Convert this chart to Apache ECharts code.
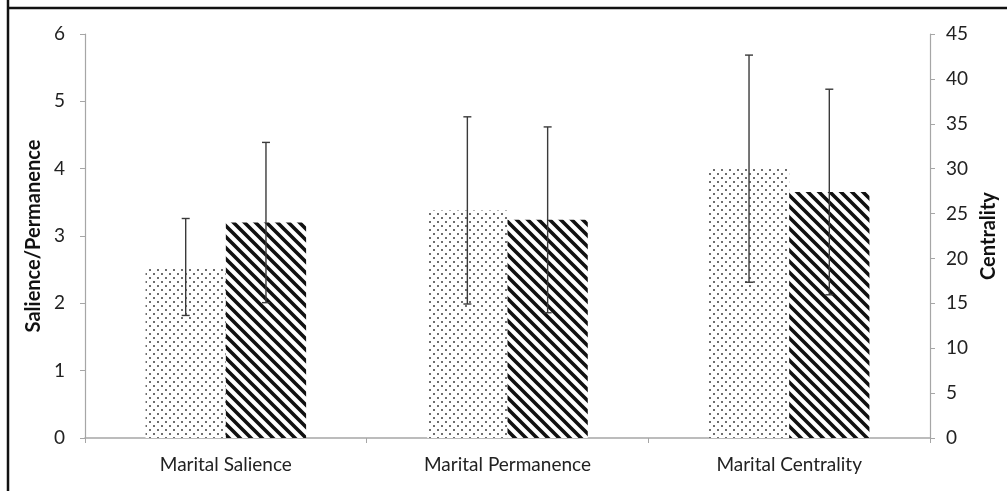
<!DOCTYPE html>
<html>
<head>
<meta charset="utf-8">
<script src="https://cdn.jsdelivr.net/npm/echarts@6/dist/echarts.min.js"></script>
<style>
html,body{margin:0;padding:0;background:#fff;}
#chart{width:1007px;height:491px;}
</style>
</head>
<body>
<div id="chart"></div>
<script>
// ---- data ----
const categories = ['Marital Salience', 'Marital Permanence', 'Marital Centrality'];
// left axis (Salience/Permanence) series
const dottedLeft = [2.54, 3.38, '-'];
const dottedLeftErr = [0.72, 1.39, '-'];
const stripedLeft = [3.20, 3.24, '-'];
const stripedLeftErr = [1.19, 1.38, '-'];
// right axis (Centrality) series
const dottedRight = ['-', '-', 30.0];
const dottedRightErr = ['-', '-', 12.65];
const stripedRight = ['-', '-', 27.4];
const stripedRightErr = ['-', '-', 11.45];
const leftTicks = [0, 1, 2, 3, 4, 5, 6];
const rightTicks = [0, 5, 10, 15, 20, 25, 30, 35, 40, 45];

// ---- patterns ----
function dotPattern() {
  const c = document.createElement('canvas');
  c.width = 8; c.height = 8;
  const g = c.getContext('2d');
  g.fillStyle = '#fff'; g.fillRect(0, 0, 8, 8);
  g.fillStyle = '#6e6e6e';
  g.fillRect(1, 1, 2, 2);
  g.fillRect(5, 5, 2, 2);
  return c;
}
function stripePattern() {
  const s = 11;
  const c = document.createElement('canvas');
  c.width = s; c.height = s;
  const g = c.getContext('2d');
  g.fillStyle = '#fff'; g.fillRect(0, 0, s, s);
  g.strokeStyle = '#111';
  g.lineWidth = 3.6;
  g.beginPath();
  for (let k = -1; k <= 1; k++) {
    g.moveTo(k * s - 2, -2);
    g.lineTo(k * s + s + 2, s + 2);
  }
  g.stroke();
  return c;
}
const dotFill = { image: dotPattern(), repeat: 'repeat' };
const stripeFill = { image: stripePattern(), repeat: 'repeat' };

const CAT_GAP = 0.43;
function toData(means, errs) {
  return means.map((m, i) => m === '-' ? null : [i, m, errs[i]]).filter(d => d);
}
function errRender(side) {
  return function (params, api) {
    const i = api.value(0), m = api.value(1), e = api.value(2);
    const band = api.size([1, 0])[0];
    const bw = band * (1 - CAT_GAP) / 2;
    const cx = api.coord([i, m])[0] + side * bw / 2;
    const top = api.coord([i, m + e])[1];
    const bot = api.coord([i, m - e])[1];
    const cap = 4;
    const style = { stroke: '#3a3a3a', lineWidth: 1.4 };
    return {
      type: 'group',
      children: [
        { type: 'line', shape: { x1: cx, y1: top, x2: cx, y2: bot }, style },
        { type: 'line', shape: { x1: cx - cap, y1: top, x2: cx + cap, y2: top }, style },
        { type: 'line', shape: { x1: cx - cap, y1: bot, x2: cx + cap, y2: bot }, style }
      ]
    };
  };
}

const FONT = 'Lato, "Open Sans", sans-serif';
const axisGray = '#a6a6a6';
const chart = echarts.init(document.getElementById('chart'), null, { renderer: 'canvas' });
chart.setOption({
  animation: false,
  backgroundColor: '#fff',
  textStyle: { fontFamily: FONT },
  graphic: [
    { type: 'line', shape: { x1: 8, y1: 0, x2: 8, y2: 500 }, style: { stroke: '#111', lineWidth: 2.5 } },
    { type: 'line', shape: { x1: 7, y1: 8, x2: 1010, y2: 8 }, style: { stroke: '#111', lineWidth: 2.5 } }
  ],
  grid: { left: 85, right: 77, top: 34, bottom: 53 },
  xAxis: [
    {
      type: 'category', data: categories,
      axisLine: { lineStyle: { color: axisGray, width: 1.5 } },
      axisTick: { show: true, length: 5, lineStyle: { color: axisGray } },
      axisLabel: { color: '#222', fontSize: 19, margin: 17, fontFamily: FONT }
    },
    { type: 'category', data: categories, show: false }
  ],
  yAxis: [
    {
      type: 'value', min: 0, max: 6, interval: 1,
      name: 'Salience/Permanence', nameLocation: 'middle', nameGap: 40, nameRotate: 90,
      nameTextStyle: { fontWeight: 'bold', fontSize: 20, color: '#111', fontFamily: FONT },
      axisLine: { show: true, lineStyle: { color: axisGray, width: 1.2 } },
      axisTick: { show: true, length: 5, lineStyle: { color: axisGray } },
      splitLine: { show: false },
      axisLabel: { color: '#222', fontSize: 19, margin: 20, fontFamily: FONT,
        formatter: v => leftTicks.includes(v) ? String(v) : '' }
    },
    {
      type: 'value', min: 0, max: 45, interval: 5, position: 'right',
      name: 'Centrality', nameLocation: 'middle', nameGap: 48, nameRotate: 90,
      nameTextStyle: { fontWeight: 'bold', fontSize: 20, color: '#111', fontFamily: FONT },
      axisLine: { show: true, lineStyle: { color: axisGray, width: 1.2 } },
      axisTick: { show: true, length: 5, lineStyle: { color: axisGray } },
      splitLine: { show: false },
      axisLabel: { color: '#222', fontSize: 19, margin: 16, fontFamily: FONT,
        formatter: v => rightTicks.includes(v) ? String(v) : '' }
    }
  ],
  series: [
    { type: 'bar', xAxisIndex: 0, yAxisIndex: 0, data: dottedLeft, barGap: 0, barCategoryGap: '43%',
      itemStyle: { color: dotFill } },
    { type: 'bar', xAxisIndex: 0, yAxisIndex: 0, data: stripedLeft, barGap: 0, barCategoryGap: '43%',
      itemStyle: { color: stripeFill } },
    { type: 'bar', xAxisIndex: 1, yAxisIndex: 1, data: dottedRight, barGap: 0, barCategoryGap: '43%',
      itemStyle: { color: dotFill } },
    { type: 'bar', xAxisIndex: 1, yAxisIndex: 1, data: stripedRight, barGap: 0, barCategoryGap: '43%',
      itemStyle: { color: stripeFill } },
    { type: 'custom', xAxisIndex: 0, yAxisIndex: 0, renderItem: errRender(-1), data: toData(dottedLeft, dottedLeftErr), z: 10 },
    { type: 'custom', xAxisIndex: 0, yAxisIndex: 0, renderItem: errRender(1), data: toData(stripedLeft, stripedLeftErr), z: 10 },
    { type: 'custom', xAxisIndex: 1, yAxisIndex: 1, renderItem: errRender(-1), data: toData(dottedRight, dottedRightErr), z: 10 },
    { type: 'custom', xAxisIndex: 1, yAxisIndex: 1, renderItem: errRender(1), data: toData(stripedRight, stripedRightErr), z: 10 }
  ]
});
</script>
</body>
</html>
